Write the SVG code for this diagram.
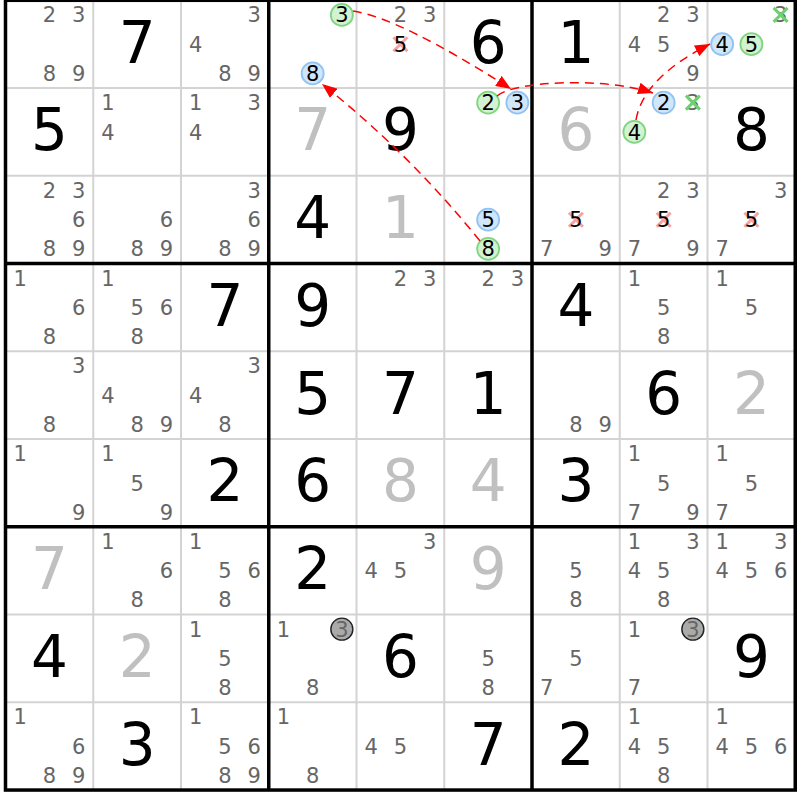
<svg xmlns="http://www.w3.org/2000/svg" width="800" height="800" viewBox="0 0 800 800">
<defs>
<style>
text{font-family:"DejaVu Sans","Verdana",sans-serif;text-anchor:middle}
.c{font-size:21px;fill:#666}
.k{font-size:21px;fill:#000}
.g{font-size:58px;fill:#000}
.s{font-size:58px;fill:#c0c0c0}
.cb{fill:#d0e6fb;stroke:#8fc3f2;stroke-width:1.8}
.cg{fill:#d2f2d2;stroke:#7fd67f;stroke-width:1.8}
.cy{fill:#aaa;stroke:#222;stroke-width:1.4}
.xr{stroke:#f5a3a3;stroke-width:3;fill:none}
.xg{stroke:#6fd06f;stroke-width:3;fill:none}
.thin{stroke:#d3d3d3;stroke-width:2}
.thick{stroke:#000;stroke-width:3.5}
.arr{fill:none;stroke:#f00;stroke-width:1.5;stroke-dasharray:9 6;marker-end:url(#ah)}
</style>
<marker id="ah" markerUnits="userSpaceOnUse" markerWidth="15" markerHeight="12" refX="15" refY="6" orient="auto">
<path d="M0,0 L15,6 L0,12 z" fill="#f00"/>
</marker>
</defs>
<rect width="800" height="800" fill="#fff"/>
<g id="grid">
<path class="thin" d="M93.25,0.3V790 M181,0.3V790 M356.5,0.3V790 M444.25,0.3V790 M619.75,0.3V790 M707.5,0.3V790 M5.5,88.05H795.25 M5.5,175.8H795.25 M5.5,351.3H795.25 M5.5,439.05H795.25 M5.5,614.55H795.25 M5.5,702.3H795.25"/>
<path class="thick" d="M268.75,0.3V790 M532,0.3V790 M5.5,263.55H795.25 M5.5,526.8H795.25"/>
<rect class="thick" x="5.5" y="0.3" width="789.75" height="789.75" fill="none"/>
</g>
<g id="r1c1" transform="translate(5.5,0.3)"><text class="c" x="43.9" y="22.2">2</text><text class="c" x="73.1" y="22.2">3</text><text class="c" x="43.9" y="80.7">8</text><text class="c" x="73.1" y="80.7">9</text></g>
<g id="r1c2" transform="translate(93.25,0.3)"><text class="g" x="43.9" y="62.4">7</text></g>
<g id="r1c3" transform="translate(181,0.3)"><text class="c" x="73.1" y="22.2">3</text><text class="c" x="14.6" y="51.5">4</text><text class="c" x="43.9" y="80.7">8</text><text class="c" x="73.1" y="80.7">9</text></g>
<g id="r1c4" transform="translate(268.75,0.3)"><circle class="cg" cx="73.1" cy="14.6" r="11"/><text class="k" x="73.1" y="22.2">3</text><circle class="cb" cx="43.9" cy="73.1" r="11"/><text class="k" x="43.9" y="80.7">8</text></g>
<g id="r1c5" transform="translate(356.5,0.3)"><text class="c" x="43.9" y="22.2">2</text><text class="c" x="73.1" y="22.2">3</text><path class="xr" d="M36.9,36.9 L50.9,50.9 M50.9,36.9 L36.9,50.9"/><text class="k" x="43.9" y="51.5">5</text></g>
<g id="r1c6" transform="translate(444.25,0.3)"><text class="g" x="43.9" y="62.4">6</text></g>
<g id="r1c7" transform="translate(532,0.3)"><text class="g" x="43.9" y="62.4">1</text></g>
<g id="r1c8" transform="translate(619.75,0.3)"><text class="c" x="43.9" y="22.2">2</text><text class="c" x="73.1" y="22.2">3</text><text class="c" x="14.6" y="51.5">4</text><text class="c" x="43.9" y="51.5">5</text><text class="c" x="73.1" y="80.7">9</text></g>
<g id="r1c9" transform="translate(707.5,0.3)"><text class="c" x="73.1" y="22.2">3</text><path class="xg" d="M66.1,7.6 L80.1,21.6 M80.1,7.6 L66.1,21.6"/><circle class="cb" cx="14.6" cy="43.9" r="11"/><text class="k" x="14.6" y="51.5">4</text><circle class="cg" cx="43.9" cy="43.9" r="11"/><text class="k" x="43.9" y="51.5">5</text></g>

<g id="r2c1" transform="translate(5.5,88.05)"><text class="g" x="43.9" y="62.4">5</text></g>
<g id="r2c2" transform="translate(93.25,88.05)"><text class="c" x="14.6" y="22.2">1</text><text class="c" x="14.6" y="51.5">4</text></g>
<g id="r2c3" transform="translate(181,88.05)"><text class="c" x="14.6" y="22.2">1</text><text class="c" x="73.1" y="22.2">3</text><text class="c" x="14.6" y="51.5">4</text></g>
<g id="r2c4" transform="translate(268.75,88.05)"><text class="s" x="43.9" y="62.4">7</text></g>
<g id="r2c5" transform="translate(356.5,88.05)"><text class="g" x="43.9" y="62.4">9</text></g>
<g id="r2c6" transform="translate(444.25,88.05)"><circle class="cg" cx="43.9" cy="14.6" r="11"/><text class="k" x="43.9" y="22.2">2</text><circle class="cb" cx="73.1" cy="14.6" r="11"/><text class="k" x="73.1" y="22.2">3</text></g>
<g id="r2c7" transform="translate(532,88.05)"><text class="s" x="43.9" y="62.4">6</text></g>
<g id="r2c8" transform="translate(619.75,88.05)"><circle class="cb" cx="43.9" cy="14.6" r="11"/><text class="k" x="43.9" y="22.2">2</text><text class="c" x="73.1" y="22.2">3</text><path class="xg" d="M66.1,7.6 L80.1,21.6 M80.1,7.6 L66.1,21.6"/><circle class="cg" cx="14.6" cy="43.9" r="11"/><text class="k" x="14.6" y="51.5">4</text></g>
<g id="r2c9" transform="translate(707.5,88.05)"><text class="g" x="43.9" y="62.4">8</text></g>

<g id="r3c1" transform="translate(5.5,175.8)"><text class="c" x="43.9" y="22.2">2</text><text class="c" x="73.1" y="22.2">3</text><text class="c" x="73.1" y="51.5">6</text><text class="c" x="43.9" y="80.7">8</text><text class="c" x="73.1" y="80.7">9</text></g>
<g id="r3c2" transform="translate(93.25,175.8)"><text class="c" x="73.1" y="51.5">6</text><text class="c" x="43.9" y="80.7">8</text><text class="c" x="73.1" y="80.7">9</text></g>
<g id="r3c3" transform="translate(181,175.8)"><text class="c" x="73.1" y="22.2">3</text><text class="c" x="73.1" y="51.5">6</text><text class="c" x="43.9" y="80.7">8</text><text class="c" x="73.1" y="80.7">9</text></g>
<g id="r3c4" transform="translate(268.75,175.8)"><text class="g" x="43.9" y="62.4">4</text></g>
<g id="r3c5" transform="translate(356.5,175.8)"><text class="s" x="43.9" y="62.4">1</text></g>
<g id="r3c6" transform="translate(444.25,175.8)"><circle class="cb" cx="43.9" cy="43.9" r="11"/><text class="k" x="43.9" y="51.5">5</text><circle class="cg" cx="43.9" cy="73.1" r="11"/><text class="k" x="43.9" y="80.7">8</text></g>
<g id="r3c7" transform="translate(532,175.8)"><path class="xr" d="M36.9,36.9 L50.9,50.9 M50.9,36.9 L36.9,50.9"/><text class="k" x="43.9" y="51.5">5</text><text class="c" x="14.6" y="80.7">7</text><text class="c" x="73.1" y="80.7">9</text></g>
<g id="r3c8" transform="translate(619.75,175.8)"><text class="c" x="43.9" y="22.2">2</text><text class="c" x="73.1" y="22.2">3</text><path class="xr" d="M36.9,36.9 L50.9,50.9 M50.9,36.9 L36.9,50.9"/><text class="k" x="43.9" y="51.5">5</text><text class="c" x="14.6" y="80.7">7</text><text class="c" x="73.1" y="80.7">9</text></g>
<g id="r3c9" transform="translate(707.5,175.8)"><text class="c" x="73.1" y="22.2">3</text><path class="xr" d="M36.9,36.9 L50.9,50.9 M50.9,36.9 L36.9,50.9"/><text class="k" x="43.9" y="51.5">5</text><text class="c" x="14.6" y="80.7">7</text></g>

<g id="r4c1" transform="translate(5.5,263.55)"><text class="c" x="14.6" y="22.2">1</text><text class="c" x="73.1" y="51.5">6</text><text class="c" x="43.9" y="80.7">8</text></g>
<g id="r4c2" transform="translate(93.25,263.55)"><text class="c" x="14.6" y="22.2">1</text><text class="c" x="43.9" y="51.5">5</text><text class="c" x="73.1" y="51.5">6</text><text class="c" x="43.9" y="80.7">8</text></g>
<g id="r4c3" transform="translate(181,263.55)"><text class="g" x="43.9" y="62.4">7</text></g>
<g id="r4c4" transform="translate(268.75,263.55)"><text class="g" x="43.9" y="62.4">9</text></g>
<g id="r4c5" transform="translate(356.5,263.55)"><text class="c" x="43.9" y="22.2">2</text><text class="c" x="73.1" y="22.2">3</text></g>
<g id="r4c6" transform="translate(444.25,263.55)"><text class="c" x="43.9" y="22.2">2</text><text class="c" x="73.1" y="22.2">3</text></g>
<g id="r4c7" transform="translate(532,263.55)"><text class="g" x="43.9" y="62.4">4</text></g>
<g id="r4c8" transform="translate(619.75,263.55)"><text class="c" x="14.6" y="22.2">1</text><text class="c" x="43.9" y="51.5">5</text><text class="c" x="43.9" y="80.7">8</text></g>
<g id="r4c9" transform="translate(707.5,263.55)"><text class="c" x="14.6" y="22.2">1</text><text class="c" x="43.9" y="51.5">5</text></g>

<g id="r5c1" transform="translate(5.5,351.3)"><text class="c" x="73.1" y="22.2">3</text><text class="c" x="43.9" y="80.7">8</text></g>
<g id="r5c2" transform="translate(93.25,351.3)"><text class="c" x="14.6" y="51.5">4</text><text class="c" x="43.9" y="80.7">8</text><text class="c" x="73.1" y="80.7">9</text></g>
<g id="r5c3" transform="translate(181,351.3)"><text class="c" x="73.1" y="22.2">3</text><text class="c" x="14.6" y="51.5">4</text><text class="c" x="43.9" y="80.7">8</text></g>
<g id="r5c4" transform="translate(268.75,351.3)"><text class="g" x="43.9" y="62.4">5</text></g>
<g id="r5c5" transform="translate(356.5,351.3)"><text class="g" x="43.9" y="62.4">7</text></g>
<g id="r5c6" transform="translate(444.25,351.3)"><text class="g" x="43.9" y="62.4">1</text></g>
<g id="r5c7" transform="translate(532,351.3)"><text class="c" x="43.9" y="80.7">8</text><text class="c" x="73.1" y="80.7">9</text></g>
<g id="r5c8" transform="translate(619.75,351.3)"><text class="g" x="43.9" y="62.4">6</text></g>
<g id="r5c9" transform="translate(707.5,351.3)"><text class="s" x="43.9" y="62.4">2</text></g>

<g id="r6c1" transform="translate(5.5,439.05)"><text class="c" x="14.6" y="22.2">1</text><text class="c" x="73.1" y="80.7">9</text></g>
<g id="r6c2" transform="translate(93.25,439.05)"><text class="c" x="14.6" y="22.2">1</text><text class="c" x="43.9" y="51.5">5</text><text class="c" x="73.1" y="80.7">9</text></g>
<g id="r6c3" transform="translate(181,439.05)"><text class="g" x="43.9" y="62.4">2</text></g>
<g id="r6c4" transform="translate(268.75,439.05)"><text class="g" x="43.9" y="62.4">6</text></g>
<g id="r6c5" transform="translate(356.5,439.05)"><text class="s" x="43.9" y="62.4">8</text></g>
<g id="r6c6" transform="translate(444.25,439.05)"><text class="s" x="43.9" y="62.4">4</text></g>
<g id="r6c7" transform="translate(532,439.05)"><text class="g" x="43.9" y="62.4">3</text></g>
<g id="r6c8" transform="translate(619.75,439.05)"><text class="c" x="14.6" y="22.2">1</text><text class="c" x="43.9" y="51.5">5</text><text class="c" x="14.6" y="80.7">7</text><text class="c" x="73.1" y="80.7">9</text></g>
<g id="r6c9" transform="translate(707.5,439.05)"><text class="c" x="14.6" y="22.2">1</text><text class="c" x="43.9" y="51.5">5</text><text class="c" x="14.6" y="80.7">7</text></g>

<g id="r7c1" transform="translate(5.5,526.8)"><text class="s" x="43.9" y="62.4">7</text></g>
<g id="r7c2" transform="translate(93.25,526.8)"><text class="c" x="14.6" y="22.2">1</text><text class="c" x="73.1" y="51.5">6</text><text class="c" x="43.9" y="80.7">8</text></g>
<g id="r7c3" transform="translate(181,526.8)"><text class="c" x="14.6" y="22.2">1</text><text class="c" x="43.9" y="51.5">5</text><text class="c" x="73.1" y="51.5">6</text><text class="c" x="43.9" y="80.7">8</text></g>
<g id="r7c4" transform="translate(268.75,526.8)"><text class="g" x="43.9" y="62.4">2</text></g>
<g id="r7c5" transform="translate(356.5,526.8)"><text class="c" x="73.1" y="22.2">3</text><text class="c" x="14.6" y="51.5">4</text><text class="c" x="43.9" y="51.5">5</text></g>
<g id="r7c6" transform="translate(444.25,526.8)"><text class="s" x="43.9" y="62.4">9</text></g>
<g id="r7c7" transform="translate(532,526.8)"><text class="c" x="43.9" y="51.5">5</text><text class="c" x="43.9" y="80.7">8</text></g>
<g id="r7c8" transform="translate(619.75,526.8)"><text class="c" x="14.6" y="22.2">1</text><text class="c" x="73.1" y="22.2">3</text><text class="c" x="14.6" y="51.5">4</text><text class="c" x="43.9" y="51.5">5</text><text class="c" x="43.9" y="80.7">8</text></g>
<g id="r7c9" transform="translate(707.5,526.8)"><text class="c" x="14.6" y="22.2">1</text><text class="c" x="73.1" y="22.2">3</text><text class="c" x="14.6" y="51.5">4</text><text class="c" x="43.9" y="51.5">5</text><text class="c" x="73.1" y="51.5">6</text></g>

<g id="r8c1" transform="translate(5.5,614.55)"><text class="g" x="43.9" y="62.4">4</text></g>
<g id="r8c2" transform="translate(93.25,614.55)"><text class="s" x="43.9" y="62.4">2</text></g>
<g id="r8c3" transform="translate(181,614.55)"><text class="c" x="14.6" y="22.2">1</text><text class="c" x="43.9" y="51.5">5</text><text class="c" x="43.9" y="80.7">8</text></g>
<g id="r8c4" transform="translate(268.75,614.55)"><text class="c" x="14.6" y="22.2">1</text><circle class="cy" cx="73.1" cy="14.6" r="11"/><text class="c" x="73.1" y="22.2">3</text><text class="c" x="43.9" y="80.7">8</text></g>
<g id="r8c5" transform="translate(356.5,614.55)"><text class="g" x="43.9" y="62.4">6</text></g>
<g id="r8c6" transform="translate(444.25,614.55)"><text class="c" x="43.9" y="51.5">5</text><text class="c" x="43.9" y="80.7">8</text></g>
<g id="r8c7" transform="translate(532,614.55)"><text class="c" x="43.9" y="51.5">5</text><text class="c" x="14.6" y="80.7">7</text></g>
<g id="r8c8" transform="translate(619.75,614.55)"><text class="c" x="14.6" y="22.2">1</text><circle class="cy" cx="73.1" cy="14.6" r="11"/><text class="c" x="73.1" y="22.2">3</text><text class="c" x="14.6" y="80.7">7</text></g>
<g id="r8c9" transform="translate(707.5,614.55)"><text class="g" x="43.9" y="62.4">9</text></g>

<g id="r9c1" transform="translate(5.5,702.3)"><text class="c" x="14.6" y="22.2">1</text><text class="c" x="73.1" y="51.5">6</text><text class="c" x="43.9" y="80.7">8</text><text class="c" x="73.1" y="80.7">9</text></g>
<g id="r9c2" transform="translate(93.25,702.3)"><text class="g" x="43.9" y="62.4">3</text></g>
<g id="r9c3" transform="translate(181,702.3)"><text class="c" x="14.6" y="22.2">1</text><text class="c" x="43.9" y="51.5">5</text><text class="c" x="73.1" y="51.5">6</text><text class="c" x="43.9" y="80.7">8</text><text class="c" x="73.1" y="80.7">9</text></g>
<g id="r9c4" transform="translate(268.75,702.3)"><text class="c" x="14.6" y="22.2">1</text><text class="c" x="43.9" y="80.7">8</text></g>
<g id="r9c5" transform="translate(356.5,702.3)"><text class="c" x="14.6" y="51.5">4</text><text class="c" x="43.9" y="51.5">5</text></g>
<g id="r9c6" transform="translate(444.25,702.3)"><text class="g" x="43.9" y="62.4">7</text></g>
<g id="r9c7" transform="translate(532,702.3)"><text class="g" x="43.9" y="62.4">2</text></g>
<g id="r9c8" transform="translate(619.75,702.3)"><text class="c" x="14.6" y="22.2">1</text><text class="c" x="14.6" y="51.5">4</text><text class="c" x="43.9" y="51.5">5</text><text class="c" x="43.9" y="80.7">8</text></g>
<g id="r9c9" transform="translate(707.5,702.3)"><text class="c" x="14.6" y="22.2">1</text><text class="c" x="14.6" y="51.5">4</text><text class="c" x="43.9" y="51.5">5</text><text class="c" x="73.1" y="51.5">6</text></g>

<g id="connectors">
<path class="arr" d="M353,11 Q400,18 511,89"/>
<path class="arr" d="M497,96 C512,82 600,76 653,93"/>
<path class="arr" d="M480,241 Q408,152 322,84"/>
<path class="arr" d="M636,120 Q643,78 710,44"/>
</g>
</svg>
